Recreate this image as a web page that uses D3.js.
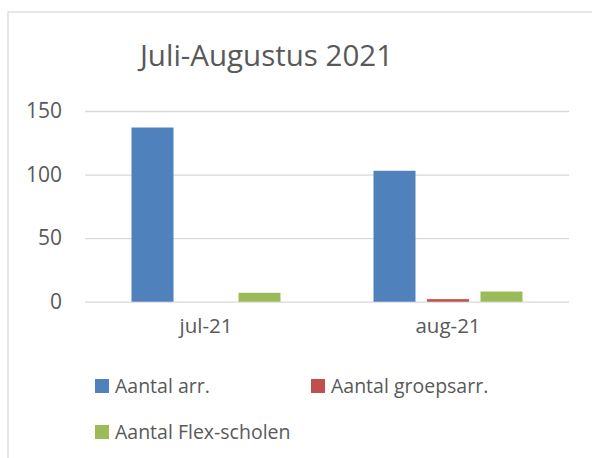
<!DOCTYPE html>
<html>
<head>
<meta charset="utf-8">
<script src="https://cdn.jsdelivr.net/npm/d3@7"></script>
<style>
  html, body { margin: 0; padding: 0; background: #fff; }
  svg { display: block; font-family: "Open Sans", sans-serif; }
</style>
</head>
<body>
<div chart></div>
<script>
const categories = ["jul-21", "aug-21"];
const seriesNames = ["Aantal arr.", "Aantal groepsarr.", "Aantal Flex-scholen"];
const arrValues = [137, 103];
const groepsValues = [0, 2];
const flexValues = [7, 8];
const yTicks = [0, 50, 100, 150];

const colors = ["#4f81bd", "#c0504d", "#9bbb59"];
const seriesValues = [arrValues, groepsValues, flexValues];

const size = { width: 592, height: 458 };
const plot = { left: 85, right: 569, top: 111, bottom: 301.7 };

const svg = d3
  .select("[chart]")
  .append("svg")
  .attr("width", size.width)
  .attr("height", size.height);

// chart border (only top/left visible in the crop)
svg
  .append("rect")
  .attr("x", 8)
  .attr("y", 12)
  .attr("width", 700)
  .attr("height", 600)
  .attr("fill", "none")
  .attr("stroke", "#d9d9d9")
  .attr("stroke-width", 1.3);

// title
svg
  .append("text")
  .attr("x", 266.5)
  .attr("y", 66)
  .attr("text-anchor", "middle")
  .attr("font-size", 29.5)
  .attr("fill", "#595959")
  .text("Juli-Augustus 2021");

const yScale = d3
  .scaleLinear()
  .domain([0, 150])
  .range([plot.bottom, plot.top]);

const x0 = d3
  .scaleBand()
  .domain(categories)
  .range([plot.left, plot.right]);

const outer = 46.5;
const x1 = d3
  .scaleBand()
  .domain(d3.range(seriesNames.length))
  .range([outer, x0.bandwidth() - outer])
  .paddingInner(0.215);

// gridlines
const yGrid = d3
  .axisLeft(yScale)
  .tickValues(yTicks)
  .tickSize(-(plot.right - plot.left))
  .tickFormat("");

svg
  .append("g")
  .attr("transform", `translate(${plot.left},0)`)
  .call(yGrid)
  .call((g) => g.select(".domain").remove())
  .call((g) =>
    g.selectAll("line").attr("stroke", "#d9d9d9").attr("stroke-width", 1.3)
  );

// y labels
const yAxis = d3.axisLeft(yScale).tickValues(yTicks).tickSize(0).tickPadding(23);

svg
  .append("g")
  .attr("transform", `translate(${plot.left},0)`)
  .call(yAxis)
  .call((g) => g.select(".domain").remove())
  .call((g) =>
    g
      .selectAll("text")
      .attr("font-family", "Open Sans")
      .attr("font-size", 21)
      .attr("fill", "#595959")
  );

// bars
const bars = [];
categories.forEach((c, ci) => {
  seriesValues.forEach((vals, si) => {
    bars.push({ cat: c, si, value: vals[ci] });
  });
});

svg
  .append("g")
  .selectAll("rect")
  .data(bars.filter((d) => d.value > 0))
  .join("rect")
  .attr("x", (d) => x0(d.cat) + x1(d.si))
  .attr("y", (d) => yScale(d.value))
  .attr("width", x1.bandwidth())
  .attr("height", (d) => yScale(0) - yScale(d.value))
  .attr("fill", (d) => colors[d.si]);

// x axis labels
const xAxis = d3.axisBottom(x0).tickSize(0).tickPadding(17);

svg
  .append("g")
  .attr("transform", `translate(0,${plot.bottom})`)
  .call(xAxis)
  .call((g) => g.select(".domain").remove())
  .call((g) =>
    g
      .selectAll("text")
      .attr("font-family", "Open Sans")
      .attr("font-size", 20.5)
      .attr("fill", "#595959")
  );

// legend
const legendPos = [
  { x: 95, y: 379 },
  { x: 311, y: 379 },
  { x: 95, y: 425 }
];

const legend = svg
  .append("g")
  .selectAll("g")
  .data(seriesNames)
  .join("g")
  .attr("transform", (d, i) => `translate(${legendPos[i].x},${legendPos[i].y})`);

legend
  .append("rect")
  .attr("width", 14)
  .attr("height", 14)
  .attr("fill", (d, i) => colors[i]);

legend
  .append("text")
  .attr("x", 20)
  .attr("y", 14)
  .attr("font-size", 19.5)
  .attr("fill", "#595959")
  .text((d) => d);
</script>
</body>
</html>
